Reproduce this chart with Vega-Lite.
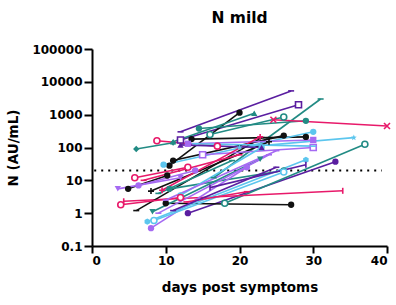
{
  "$schema": "https://vega.github.io/schema/vega-lite/v6.json",
  "autosize": {"type": "none"},
  "width": 295,
  "height": 197,
  "padding": {"left": 92, "top": 49, "right": 9, "bottom": 59},
  "background": "white",
  "config": {
    "view": {"stroke": null},
    "font": "DejaVu Sans",
    "axis": {"grid": false, "domainColor": "black", "domainWidth": 2, "tickColor": "black", "tickWidth": 2, "labelColor": "black", "labelFont": "DejaVu Sans", "labelFontWeight": "bold", "labelFontSize": 12, "titleFont": "DejaVu Sans", "titleFontWeight": "bold", "titleFontSize": 13.5, "titleColor": "black"}
  },
  "title": {"text": "N mild", "fontSize": 15.5, "fontWeight": "bold", "font": "DejaVu Sans", "anchor": "middle", "frame": "group", "offset": 17, "color": "black"},
  "datasets": {
    "cutoff": [{"start": 0.3, "end": 39.3, "value": 20}]
  },
  "data": {"values": [
    {"p": "p01", "day": 12, "n": 300}, {"p": "p01", "day": 27, "n": 5300},
    {"p": "p02", "day": 12, "n": 170}, {"p": "p02", "day": 28, "n": 2000},
    {"p": "p03", "day": 10.5, "n": 28}, {"p": "p03", "day": 20, "n": 1150},
    {"p": "p04", "day": 16.5, "n": 12}, {"p": "p04", "day": 31, "n": 3000},
    {"p": "p05", "day": 6, "n": 90}, {"p": "p05", "day": 11, "n": 140},
    {"p": "p06", "day": 11, "n": 150}, {"p": "p06", "day": 22, "n": 1100},
    {"p": "p07", "day": 14.5, "n": 380}, {"p": "p07", "day": 29, "n": 650},
    {"p": "p08", "day": 16, "n": 250}, {"p": "p08", "day": 26, "n": 850},
    {"p": "p09", "day": 8.8, "n": 160}, {"p": "p09", "day": 17, "n": 110},
    {"p": "p10", "day": 24.6, "n": 700}, {"p": "p10", "day": 40, "n": 450},
    {"p": "p11", "day": 13.5, "n": 180}, {"p": "p11", "day": 29, "n": 210},
    {"p": "p12", "day": 11, "n": 40}, {"p": "p12", "day": 26, "n": 230},
    {"p": "p13", "day": 9.7, "n": 30}, {"p": "p13", "day": 30, "n": 300},
    {"p": "p14", "day": 20, "n": 100}, {"p": "p14", "day": 35.5, "n": 200},
    {"p": "p15", "day": 13, "n": 1}, {"p": "p15", "day": 33, "n": 37},
    {"p": "p16", "day": 18, "n": 2}, {"p": "p16", "day": 37, "n": 125},
    {"p": "p17", "day": 4.3, "n": 2.3}, {"p": "p17", "day": 34, "n": 4.8},
    {"p": "p18", "day": 10, "n": 2}, {"p": "p18", "day": 27, "n": 1.8},
    {"p": "p19", "day": 6, "n": 1.2}, {"p": "p19", "day": 23, "n": 200},
    {"p": "p20", "day": 8, "n": 4.7}, {"p": "p20", "day": 24, "n": 150},
    {"p": "p21", "day": 4.9, "n": 5.5}, {"p": "p21", "day": 10.2, "n": 14},
    {"p": "p22", "day": 8.2, "n": 1.1}, {"p": "p22", "day": 22.8, "n": 44},
    {"p": "p23", "day": 10.5, "n": 5.5}, {"p": "p23", "day": 26, "n": 20},
    {"p": "p24", "day": 3.5, "n": 5.5}, {"p": "p24", "day": 12, "n": 12},
    {"p": "p25", "day": 8, "n": 0.35}, {"p": "p25", "day": 21, "n": 25},
    {"p": "p26", "day": 6.3, "n": 7}, {"p": "p26", "day": 14, "n": 20},
    {"p": "p27", "day": 13, "n": 130}, {"p": "p27", "day": 30, "n": 170},
    {"p": "p28", "day": 15, "n": 60}, {"p": "p28", "day": 30, "n": 100},
    {"p": "p29", "day": 7.5, "n": 0.55}, {"p": "p29", "day": 29, "n": 42},
    {"p": "p30", "day": 8.4, "n": 0.6}, {"p": "p30", "day": 26, "n": 18},
    {"p": "p31", "day": 12, "n": 3.5}, {"p": "p31", "day": 23, "n": 100},
    {"p": "p32", "day": 3.9, "n": 1.8}, {"p": "p32", "day": 12, "n": 3},
    {"p": "p33", "day": 5.8, "n": 12}, {"p": "p33", "day": 13, "n": 25},
    {"p": "p34", "day": 12.8, "n": 2.2}, {"p": "p34", "day": 21, "n": 4.5},
    {"p": "p35", "day": 9.5, "n": 5}, {"p": "p35", "day": 22.8, "n": 210},
    {"p": "p36", "day": 12, "n": 120}, {"p": "p36", "day": 23, "n": 100},
    {"p": "p37", "day": 11, "n": 1.2}, {"p": "p37", "day": 25, "n": 25},
    {"p": "p38", "day": 9, "n": 1}, {"p": "p38", "day": 24, "n": 60},
    {"p": "p40", "day": 14, "n": 130}, {"p": "p40", "day": 30, "n": 110},
    {"p": "p42", "day": 16, "n": 6}, {"p": "p42", "day": 29, "n": 30},
    {"p": "p43", "day": 7, "n": 10}, {"p": "p43", "day": 20, "n": 60},
    {"p": "p44", "day": 10, "n": 2.5}, {"p": "p44", "day": 25, "n": 80},
    {"p": "p45", "day": 9, "n": 4}, {"p": "p45", "day": 19, "n": 40}
  ]},
  "encoding": {
    "x": {"field": "day", "type": "quantitative", "scale": {"domain": [0, 40], "nice": false}, "axis": {"values": [0, 10, 20, 30, 40], "title": "days post symptoms", "tickSize": 7, "labelPadding": 2, "titlePadding": 14}},
    "y": {"field": "n", "type": "quantitative", "scale": {"type": "log", "domain": [0.1, 100000], "nice": false}, "axis": {"values": [0.1, 1, 10, 100, 1000, 10000, 100000], "format": "~g", "title": "N (AU/mL)", "tickSize": 8, "labelPadding": 2, "titlePadding": 11}},
    "color": {"field": "p", "type": "nominal", "legend": null, "scale": {
      "domain": ["p01","p02","p03","p04","p05","p06","p07","p08","p09","p10","p11","p12","p13","p14","p15","p16","p17","p18","p19","p20","p21","p22","p23","p24","p25","p26","p27","p28","p29","p30","p31","p32","p33","p34","p35","p36","p37","p38","p40","p42","p43","p44","p45"],
      "range": ["#5a1ea0","#5a1ea0","#111111","#228b84","#228b84","#228b84","#228b84","#228b84","#e8196a","#e8196a","#111111","#111111","#5cc6ee","#5cc6ee","#5a1ea0","#228b84","#e8196a","#111111","#111111","#111111","#111111","#228b84","#228b84","#a56af2","#a56af2","#a56af2","#a56af2","#a56af2","#5cc6ee","#5cc6ee","#5cc6ee","#e8196a","#e8196a","#e8196a","#e8196a","#5a1ea0","#5a1ea0","#a56af2","#5cc6ee","#5a1ea0","#e8196a","#a56af2","#228b84"]
    }}
  },
  "resolve": {"scale": {"shape": "independent"}},
  "layer": [
    {
      "data": {"name": "cutoff"},
      "mark": {"type": "rule", "color": "black", "strokeWidth": 2, "strokeDash": [2, 5]},
      "encoding": {"x": {"field": "start", "type": "quantitative"}, "x2": {"field": "end"}, "y": {"field": "value", "type": "quantitative"}, "color": {"value": "black"}}
    },
    {
      "mark": {"type": "line", "strokeWidth": 1.6},
      "encoding": {"detail": {"field": "p", "type": "nominal"}}
    },
    {
      "transform": [{"filter": {"field": "p", "oneOf": ["p03","p05","p06","p07","p11","p12","p13","p14","p15","p18","p21","p22","p23","p24","p25","p26","p27","p29","p31","p36"]}}],
      "mark": {"type": "point", "filled": true, "size": 40, "opacity": 1},
      "encoding": {"shape": {"field": "p", "type": "nominal", "legend": null, "scale": {
        "domain": ["p03","p05","p06","p07","p11","p12","p13","p14","p15","p18","p21","p22","p23","p24","p25","p26","p27","p29","p31","p36"],
        "range": ["circle","diamond","triangle-up","circle","circle","circle","circle","M0,-1L0.24,-0.33L0.95,-0.31L0.38,0.12L0.59,0.81L0,0.4L-0.59,0.81L-0.38,0.12L-0.95,-0.31L-0.24,-0.33Z","circle","circle","circle","triangle-down","circle","triangle-down","circle","circle","square","M0,-1L0.87,-0.5L0.87,0.5L0,1L-0.87,0.5L-0.87,-0.5Z","circle","triangle-up"]
      }}}
    },
    {
      "transform": [{"filter": {"field": "p", "oneOf": ["p01","p02","p04","p08","p09","p10","p16","p17","p19","p20","p28","p30","p32","p33","p34","p35","p37","p38","p40","p42","p43","p44","p45"]}}],
      "mark": {"type": "point", "filled": false, "fill": "white", "size": 36, "strokeWidth": 1.6, "opacity": 1},
      "encoding": {"shape": {"field": "p", "type": "nominal", "legend": null, "scale": {
        "domain": ["p01","p02","p04","p08","p09","p10","p16","p17","p19","p20","p28","p30","p32","p33","p34","p35","p37","p38","p40","p42","p43","p44","p45"],
        "range": ["M-1,0L1,0","square","M-1,0L1,0","circle","circle","M-1,-1L1,1M-1,1L1,-1","circle","M0,-1L0,1","M-1,0L1,0","M-1,0L1,0M0,-1L0,1","square","circle","circle","circle","M-1,0L1,0","M-1,0L1,0M0,-1L0,1","M-1,0L1,0","M-1,0L1,0","M-1,0L1,0","M0,-1L0,1","M-1,0L1,0","M-1,0L1,0","M-1,0L1,0"]
      }}}
    }
  ]
}
